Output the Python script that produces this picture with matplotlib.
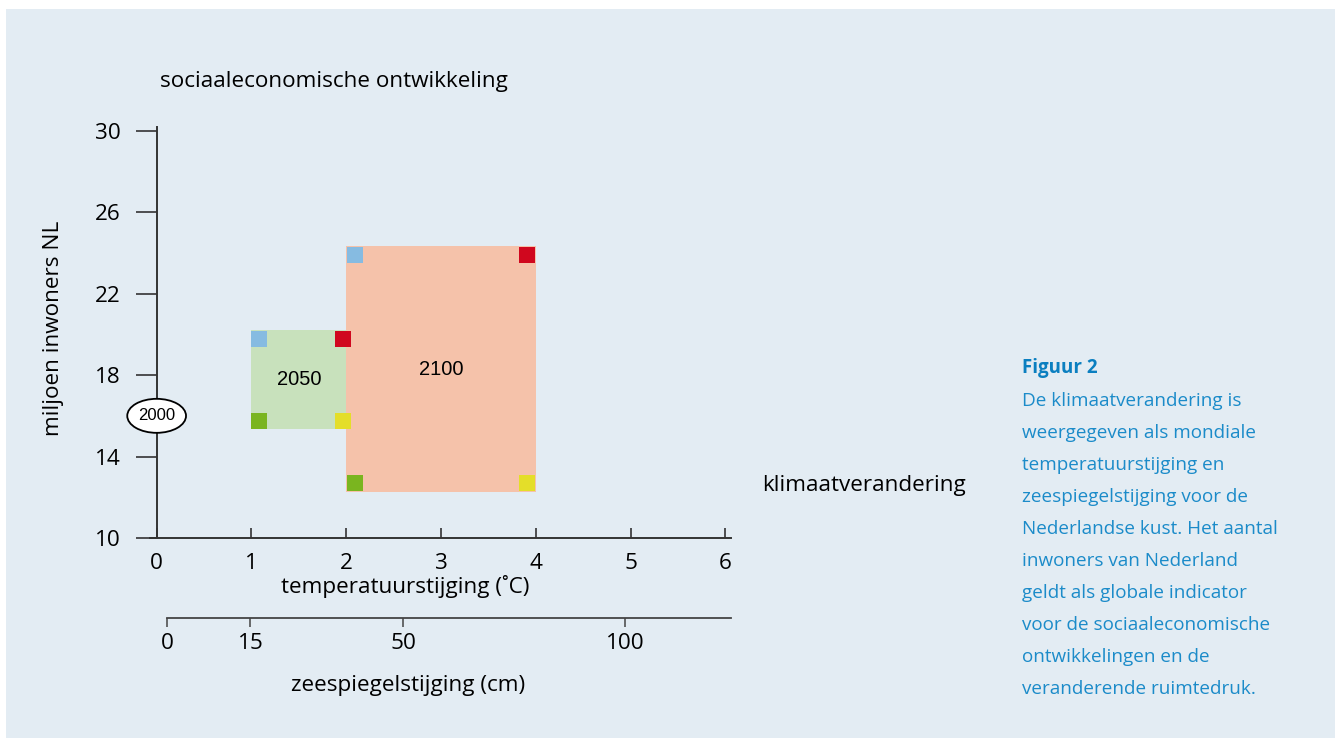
import matplotlib
matplotlib.use("Agg")
import matplotlib.pyplot as plt
from matplotlib.patches import Rectangle, Ellipse

# axis ticks
temp_ticks = [0, 1, 2, 3, 4, 5, 6]
pop_ticks = [10, 14, 18, 22, 26, 30]
sea_cm = [0, 15, 50, 100]
sea_at_temp = [0.11, 0.99, 2.6, 4.94]  # where each sea level tick sits on the temperature axis

# ranges per period
periods = ["2050", "2100"]
temp_lo = [1, 2]
temp_hi = [2, 4]
pop_lo = [15.35, 12.26]
pop_hi = [20.22, 24.34]
period_colors = ["#c8e1bc", "#f5c2aa"]

# scenario corners (blue, red, green, yellow)
scen_colors = ["#86bbe1", "#d0071e", "#7ab51f", "#e4de29"]
scen_temp_2050 = [1.08, 1.97, 1.08, 1.97]
scen_pop_2050 = [19.75, 19.75, 15.77, 15.77]
scen_temp_2100 = [2.09, 3.91, 2.09, 3.91]
scen_pop_2100 = [23.92, 23.92, 12.68, 12.68]

start_year = "2000"
start_temp = 0
start_pop = 16.0

caption_title = "Figuur 2"
caption_lines = [
    "De klimaatverandering is",
    "weergegeven als mondiale",
    "temperatuurstijging en",
    "zeespiegelstijging voor de",
    "Nederlandse kust. Het aantal",
    "inwoners van Nederland",
    "geldt als globale indicator",
    "voor de sociaaleconomische",
    "ontwikkelingen en de",
    "veranderende ruimtedruk.",
]

plt.rcParams["font.family"] = ["Open Sans", "DejaVu Sans"]
W, H = 1335, 738
fig = plt.figure(figsize=(W / 100, H / 100), dpi=100, facecolor="white")

# light blue panel
fig.patches.append(Rectangle((6 / W, 0), 1, 1 - 9 / H, transform=fig.transFigure,
                             facecolor="#e3ecf3", edgecolor="none", zorder=-10))

fs = 16.2
axc = "#333333"
ax = fig.add_axes([150 / W, 1 - 538 / H, 581 / W, (538 - 126.7) / H])
ax.set_facecolor("none")
ax.set_xlim(-0.07, 6.06)
ax.set_ylim(10, 30.2)
for s in ["top", "right"]:
    ax.spines[s].set_visible(False)
ax.spines["left"].set_position(("data", 0))
ax.spines["left"].set_color(axc)
ax.spines["bottom"].set_color(axc)
ax.spines["left"].set_linewidth(1.4)
ax.spines["bottom"].set_linewidth(1.4)

ax.set_xticks(temp_ticks)
ax.set_yticks(pop_ticks)
ax.tick_params(axis="x", direction="in", length=7, width=1.2, color=axc, pad=10.5, labelsize=fs)
ax.tick_params(axis="y", direction="out", length=15, width=1.2, color=axc, pad=11, labelsize=fs)

for i in range(len(periods)):
    ax.add_patch(Rectangle((temp_lo[i], pop_lo[i]), temp_hi[i] - temp_lo[i], pop_hi[i] - pop_lo[i],
                           facecolor=period_colors[i], edgecolor="none", zorder=1))
    ax.text((temp_lo[i] + temp_hi[i]) / 2, (pop_lo[i] + pop_hi[i]) / 2, periods[i],
            ha="center", va="center", fontsize=14.5, family="Liberation Sans", zorder=3)

for i in range(4):
    ax.plot(scen_temp_2050[i], scen_pop_2050[i], "s", ms=12.2, mew=0, color=scen_colors[i], zorder=4)
    ax.plot(scen_temp_2100[i], scen_pop_2100[i], "s", ms=12.2, mew=0, color=scen_colors[i], zorder=4)

ax.add_patch(Ellipse((start_temp, start_pop), 0.62, 1.67, facecolor="white", edgecolor="black",
                     linewidth=1.3, zorder=5, clip_on=False))
ax.text(start_temp, start_pop, start_year, ha="center", va="center", fontsize=12,
        family="Liberation Sans", zorder=6)

# second axis for sea level
ax2 = fig.add_axes([150 / W, 1 - 618 / H, 581 / W, 0.01])
ax2.set_facecolor("none")
ax2.set_xlim(ax.get_xlim())
for s in ["top", "right", "left"]:
    ax2.spines[s].set_visible(False)
ax2.spines["bottom"].set_bounds(sea_at_temp[0], 6.06)
ax2.spines["bottom"].set_color("#444444")
ax2.spines["bottom"].set_linewidth(1.3)
ax2.set_yticks([])
ax2.set_xticks(sea_at_temp)
ax2.set_xticklabels([str(v) for v in sea_cm])
ax2.tick_params(axis="x", direction="out", length=6.5, width=1.1, color="#444444", pad=4, labelsize=fs)

fig.text(160 / W, 1 - 82 / H, "sociaaleconomische ontwikkeling", ha="left", va="center", fontsize=fs)
fig.text(54 / W, 1 - 328 / H, "miljoen inwoners NL", ha="center", va="center", rotation=90, fontsize=fs)
fig.text(405 / W, 1 - 587 / H, "temperatuurstijging (˚C)", ha="center", va="center", fontsize=fs)
fig.text(408 / W, 1 - 685 / H, "zeespiegelstijging (cm)", ha="center", va="center", fontsize=fs)
fig.text(762 / W, 1 - 485 / H, "klimaatverandering", ha="left", va="center", fontsize=fs)

cap_color = "#1b8bc9"
fig.text(1022 / W, 1 - 368 / H, caption_title, ha="left", va="center", fontsize=13.5,
         fontweight="bold", color="#0b7fc0")
for k, line in enumerate(caption_lines):
    fig.text(1022 / W, 1 - (401 + 32 * k) / H, line, ha="left", va="center", fontsize=13.6, color=cap_color)

fig.savefig("out.png", dpi=100, facecolor="white")
